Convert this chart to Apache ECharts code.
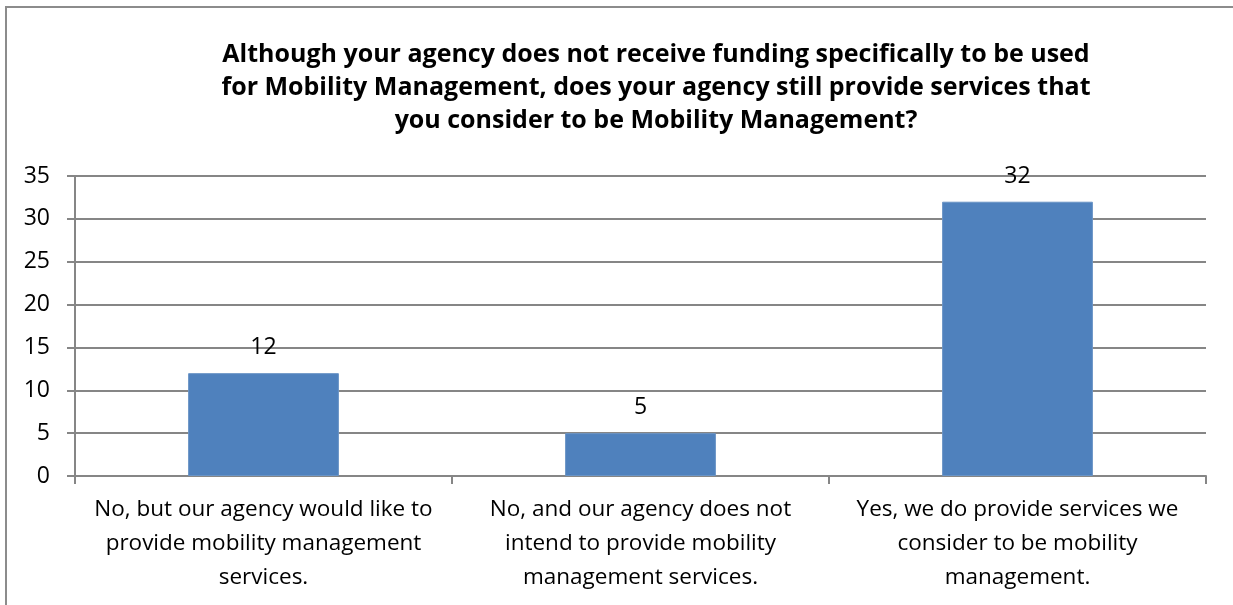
<!DOCTYPE html>
<html>
<head>
<meta charset="utf-8">
<script src="https://cdn.jsdelivr.net/npm/echarts@6/dist/echarts.min.js"></script>
<style>
  html, body { margin: 0; padding: 0; background: #fff; overflow: hidden; }
  #chart { position: absolute; left: 0; top: 0; width: 1233px; height: 605px; }
  #frame { position: absolute; left: 5px; top: 6px; width: 1240px; height: 620px;
           border-left: 2px solid #8c8c8c; border-top: 2px solid #8c8c8c; pointer-events: none; }
</style>
</head>
<body>
<div id="chart"></div>
<div id="frame"></div>
<script>
const titleText = "Although your agency does not receive funding specifically to be used\nfor Mobility Management, does your agency still provide services that\nyou consider to be Mobility Management?";
const categories = [
  "No, but our agency would like to\nprovide mobility management\nservices.",
  "No, and our agency does not\nintend to provide mobility\nmanagement services.",
  "Yes, we do provide services we\nconsider to be mobility\nmanagement."
];
const counts = [12, 5, 32];
const yTicks = [0, 5, 10, 15, 20, 25, 30, 35];

const font = "'Open Sans', 'Noto Sans', sans-serif";
const axisGray = "#868686";

const chart = echarts.init(document.getElementById("chart"));

chart.setOption({
  animation: false,
  title: {
    text: titleText,
    left: 651,
    top: 33,
    textAlign: "center",
    textStyle: {
      fontFamily: font,
      fontWeight: "bold",
      fontSize: 25,
      lineHeight: 33,
      color: "#000",
    },
  },
  grid: {
    left: 75,
    right: 27,
    top: 176,
    bottom: 129,
  },
  xAxis: {
    type: "category",
    data: categories,
    axisLine: { lineStyle: { color: axisGray, width: 2 } },
    axisTick: { show: true, length: 8, lineStyle: { color: axisGray, width: 2 } },
    axisLabel: {
      color: "#000",
      fontFamily: font,
      fontSize: 22.5,
      lineHeight: 34,
      margin: 17,
      interval: 0,
    },
  },
  yAxis: {
    type: "value",
    min: yTicks[0],
    max: yTicks[yTicks.length - 1],
    interval: 5,
    axisLine: { show: true, lineStyle: { color: axisGray, width: 2 } },
    axisTick: { show: true, length: 8, lineStyle: { color: axisGray, width: 2 } },
    splitLine: { lineStyle: { color: axisGray, width: 2 } },
    axisLabel: {
      color: "#000",
      fontFamily: font,
      fontSize: 23,
      margin: 25,
    },
  },
  series: [
    {
      type: "bar",
      data: counts,
      barWidth: "40%",
      itemStyle: { color: "#4F81BD", borderColor: "#6a94c6", borderWidth: 1 },
      label: {
        show: true,
        position: "top",
        distance: 14,
        color: "#000",
        fontFamily: font,
        fontSize: 23,
      },
    },
  ],
});
</script>
</body>
</html>
